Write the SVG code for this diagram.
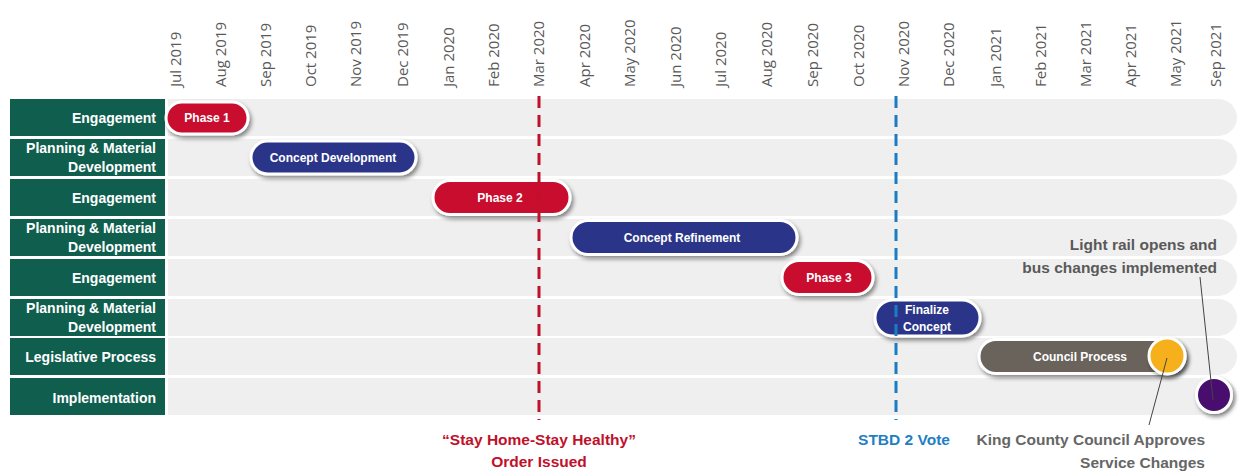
<svg xmlns="http://www.w3.org/2000/svg" width="1239" height="472" viewBox="0 0 1239 472">
<defs>
<filter id="sh" x="-20%" y="-40%" width="140%" height="180%">
<feDropShadow dx="2" dy="3" stdDeviation="2" flood-color="#000" flood-opacity="0.45"/>
</filter>
<style>
.mo{font-family:"Open Sans","Liberation Sans",sans-serif;font-size:15px;fill:#595959}
.bar{fill:#efefef}
.lab{fill:#0f5e4e}
.lt{font-family:"Liberation Sans",Arial,sans-serif;font-weight:bold;font-size:14px;fill:#fff;text-anchor:end}
.pill{stroke:#fff;stroke-width:3;filter:url(#sh)}
.pt{font-family:"Liberation Sans",Arial,sans-serif;font-weight:bold;font-size:12px;fill:#fff;text-anchor:middle}
.red{fill:#c8102e}
.navy{fill:#2b3589}
.brown{fill:#6b635b}
.note{font-family:"Liberation Sans",Arial,sans-serif;font-weight:bold;font-size:15.5px}
.lead{stroke:#444;stroke-width:1;fill:none}
</style>
</defs>
<rect width="1239" height="472" fill="#fff"/>

<g id="months">
<text class="mo" transform="translate(181,87) rotate(-90)">Jul 2019</text>
<text class="mo" transform="translate(226,87) rotate(-90)">Aug 2019</text>
<text class="mo" transform="translate(271,87) rotate(-90)">Sep 2019</text>
<text class="mo" transform="translate(316,87) rotate(-90)">Oct 2019</text>
<text class="mo" transform="translate(361,87) rotate(-90)">Nov 2019</text>
<text class="mo" transform="translate(408,87) rotate(-90)">Dec 2019</text>
<text class="mo" transform="translate(454,87) rotate(-90)">Jan 2020</text>
<text class="mo" transform="translate(499,87) rotate(-90)">Feb 2020</text>
<text class="mo" transform="translate(544,87) rotate(-90)">Mar 2020</text>
<text class="mo" transform="translate(590,87) rotate(-90)">Apr 2020</text>
<text class="mo" transform="translate(635,87) rotate(-90)">May 2020</text>
<text class="mo" transform="translate(681,87) rotate(-90)">Jun 2020</text>
<text class="mo" transform="translate(726,87) rotate(-90)">Jul 2020</text>
<text class="mo" transform="translate(772,87) rotate(-90)">Aug 2020</text>
<text class="mo" transform="translate(818,87) rotate(-90)">Sep 2020</text>
<text class="mo" transform="translate(864,87) rotate(-90)">Oct 2020</text>
<text class="mo" transform="translate(909,87) rotate(-90)">Nov 2020</text>
<text class="mo" transform="translate(954,87) rotate(-90)">Dec 2020</text>
<text class="mo" transform="translate(1001,87) rotate(-90)">Jan 2021</text>
<text class="mo" transform="translate(1046,87) rotate(-90)">Feb 2021</text>
<text class="mo" transform="translate(1091,87) rotate(-90)">Mar 2021</text>
<text class="mo" transform="translate(1136,87) rotate(-90)">Apr 2021</text>
<text class="mo" transform="translate(1181,87) rotate(-90)">May 2021</text>
<text class="mo" transform="translate(1221,87) rotate(-90)">Sep 2021</text>
</g>

<g id="rows">
<path class="bar" d="M168,99 H1218.5 A18.5,18.5 0 0 1 1218.5,136 H168 Z"/>
<path class="bar" d="M168,139 H1218.5 A18.5,18.5 0 0 1 1218.5,176 H168 Z"/>
<path class="bar" d="M168,179 H1218.5 A18.5,18.5 0 0 1 1218.5,216 H168 Z"/>
<path class="bar" d="M168,219 H1218.5 A18.5,18.5 0 0 1 1218.5,256 H168 Z"/>
<path class="bar" d="M168,259 H1218.5 A18.5,18.5 0 0 1 1218.5,296 H168 Z"/>
<path class="bar" d="M168,299 H1218.5 A18.5,18.5 0 0 1 1218.5,336 H168 Z"/>
<path class="bar" d="M168,338 H1218.5 A18.5,18.5 0 0 1 1218.5,375 H168 Z"/>
<path class="bar" d="M168,378 H1218.5 A18.5,18.5 0 0 1 1218.5,415 H168 Z"/>
</g>

<g id="row-labels">
<rect class="lab" x="10" y="99" width="155" height="37"/>
<text class="lt" x="156" y="122.5">Engagement</text>
<rect class="lab" x="10" y="139" width="155" height="37"/>
<text class="lt" x="156" y="152.5">Planning &amp; Material</text>
<text class="lt" x="156" y="171.5">Development</text>
<rect class="lab" x="10" y="179" width="155" height="37"/>
<text class="lt" x="156" y="202.5">Engagement</text>
<rect class="lab" x="10" y="219" width="155" height="37"/>
<text class="lt" x="156" y="232.5">Planning &amp; Material</text>
<text class="lt" x="156" y="251.5">Development</text>
<rect class="lab" x="10" y="259" width="155" height="37"/>
<text class="lt" x="156" y="282.5">Engagement</text>
<rect class="lab" x="10" y="299" width="155" height="37"/>
<text class="lt" x="156" y="312.5">Planning &amp; Material</text>
<text class="lt" x="156" y="331.5">Development</text>
<rect class="lab" x="10" y="338" width="155" height="37"/>
<text class="lt" x="156" y="361.5">Legislative Process</text>
<rect class="lab" x="10" y="378" width="155" height="37"/>
<text class="lt" x="156" y="402.5">Implementation</text>
</g>

<g id="phase1">
<rect class="pill red" x="166" y="102" width="82" height="32" rx="16"/>
<text class="pt" x="207" y="122">Phase 1</text>
</g>
<g id="concept-development">
<rect class="pill navy" x="251" y="141" width="165" height="33" rx="16.5"/>
<text class="pt" x="333" y="161.5">Concept Development</text>
</g>
<g id="phase2">
<rect class="pill red" x="433" y="180.5" width="137" height="34" rx="17"/>
<text class="pt" x="500" y="201.5">Phase 2</text>
</g>
<g id="concept-refinement">
<rect class="pill navy" x="571" y="220.5" width="226" height="34" rx="17"/>
<text class="pt" x="682" y="241.5">Concept Refinement</text>
</g>
<g id="phase3">
<rect class="pill red" x="782" y="260.5" width="91" height="34" rx="17"/>
<text class="pt" x="829" y="281.5">Phase 3</text>
</g>
<g id="finalize-concept">
<rect class="pill navy" x="875" y="300" width="105" height="36" rx="18"/>
<text class="pt" x="927" y="314">Finalize</text>
<text class="pt" x="927" y="331">Concept</text>
</g>
<g id="council-process">
<rect class="pill brown" x="979" y="339.5" width="206" height="34" rx="17"/>
<text class="pt" x="1080" y="360.5">Council Process</text>
</g>
<g id="council-approves">
<circle class="pill" cx="1167" cy="356" r="18" fill="#f5b01c"/>
</g>
<g id="light-rail-opens">
<circle class="pill" cx="1214" cy="395" r="17.5" fill="#4a0f6e"/>
</g>

<g id="markers">
<line x1="539" y1="96" x2="539" y2="420" stroke="#c0102a" stroke-width="3" stroke-dasharray="12 7"/>
<line x1="896" y1="96" x2="896" y2="420" stroke="#1a7cc2" stroke-width="3" stroke-dasharray="12 7"/>
</g>

<g id="connectors">
<line class="lead" x1="1200" y1="277" x2="1213" y2="400"/>
<line class="lead" x1="1167" y1="358" x2="1149" y2="425"/>
</g>

<g id="annotations">
<text class="note" fill="#c0102a" text-anchor="middle" x="539" y="445">“Stay Home-Stay Healthy”</text>
<text class="note" fill="#c0102a" text-anchor="middle" x="539" y="467">Order Issued</text>
<text class="note" fill="#1f7fc4" text-anchor="middle" x="904" y="445">STBD 2 Vote</text>
<text class="note" fill="#666" text-anchor="end" x="1205" y="445">King County Council Approves</text>
<text class="note" fill="#666" text-anchor="end" x="1205" y="468">Service Changes</text>
<text class="note" fill="#595959" text-anchor="end" x="1217" y="250">Light rail opens and</text>
<text class="note" fill="#595959" text-anchor="end" x="1217" y="273">bus changes implemented</text>
</g>
</svg>
